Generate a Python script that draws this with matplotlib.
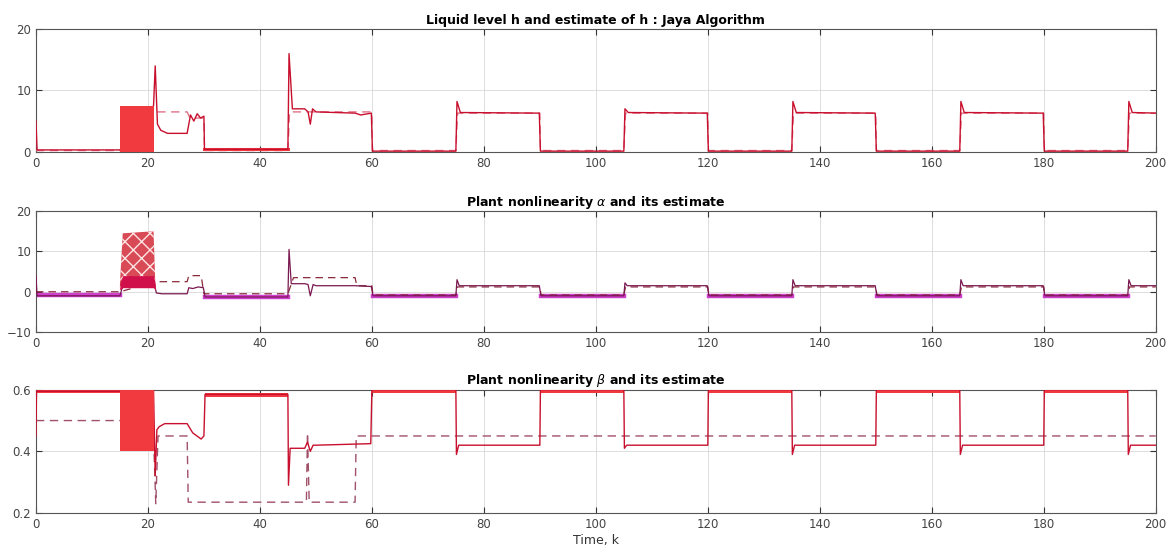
import matplotlib
matplotlib.use("Agg")
import matplotlib.pyplot as plt

# ── data ──────────────────────────────────────────────────────────────
# panel 1: liquid level h (solid) and its estimate (dashed)
h_k = [0, 0.2, 15, 21, 21.3, 21.7, 22.3, 23.5, 27, 27.6, 28.2, 28.8, 29.4, 30, 30.1,
       45, 45.2, 45.8, 48, 48.6, 49, 49.4, 50, 57, 58, 59.9, 60.1,
       75, 75.2, 75.8, 89.9, 90.1, 105, 105.2, 105.8, 119.9, 120.1,
       135, 135.2, 135.8, 149.9, 150.1, 165, 165.2, 165.8, 179.9, 180.1,
       195, 195.2, 195.8, 200]
h_v = [5, 0.3, 0.3, 7.5, 14, 4.5, 3.5, 3.0, 3.0, 6.0, 5.0, 6.2, 5.5, 5.8, 0.4,
       0.4, 16, 7.0, 7.0, 6.5, 4.5, 7.0, 6.5, 6.3, 6.0, 6.3, 0.1,
       0.1, 8.2, 6.4, 6.3, 0.1, 0.1, 7.0, 6.4, 6.3, 0.1,
       0.1, 8.2, 6.4, 6.3, 0.1, 0.1, 8.2, 6.4, 6.3, 0.1,
       0.1, 8.2, 6.4, 6.3]
hh_k = [0, 15, 21, 21.5, 27, 27.5, 30, 30.1, 45, 45.3, 60, 60.1, 75, 75.3, 90, 90.1,
        105, 105.3, 120, 120.1, 135, 135.3, 150, 150.1, 165, 165.3, 180, 180.1,
        195, 195.3, 200]
hh_v = [0.2, 0.2, 6.5, 6.5, 6.5, 5.5, 5.5, 0.2, 0.2, 6.5, 6.5, 0.2, 0.2, 6.3, 6.3, 0.2,
        0.2, 6.3, 6.3, 0.2, 0.2, 6.3, 6.3, 0.2, 0.2, 6.3, 6.3, 0.2,
        0.2, 6.3, 6.3]
h_osc_k = [15, 21]
h_osc_lo = [0, 0]
h_osc_hi = [7.5, 7.5]

# panel 2: nonlinearity alpha (solid) and its estimate (dashed)
a_k = [0, 0.2, 15, 15.5, 21, 21.5, 22.5, 27, 27.3, 28, 29, 29.9, 30.2,
       45, 45.2, 45.6, 48, 48.6, 49, 49.5, 50, 57, 59.9, 60.2,
       75, 75.2, 75.6, 89.9, 90.2, 105, 105.2, 105.6, 119.9, 120.2,
       135, 135.2, 135.6, 149.9, 150.2, 165, 165.2, 165.6, 179.9, 180.2,
       195, 195.2, 195.6, 200]
a_v = [4, -1, -1, 1.5, 3, -0.3, -0.5, -0.5, 1.0, 0.8, 1.2, 1.0, -1.3,
       -1.3, 10.5, 2.0, 2.0, 1.8, -1.0, 1.8, 1.5, 1.5, 1.3, -1.0,
       -1.0, 3.0, 1.5, 1.5, -1.0, -1.0, 2.2, 1.5, 1.5, -1.0,
       -1.0, 3.0, 1.5, 1.5, -1.0, -1.0, 3.0, 1.5, 1.5, -1.0,
       -1.0, 3.0, 1.5, 1.5]
ah_k = [0, 15, 21.5, 22, 27, 27.3, 29.5, 30, 45, 46, 57, 57.3, 60, 60.2,
        75, 75.3, 90, 90.2, 105, 105.3, 120, 120.2, 135, 135.3, 150, 150.2,
        165, 165.3, 180, 180.2, 195, 195.3, 200]
ah_v = [0, 0, 2.5, 2.5, 2.5, 4.0, 4.0, -0.5, -0.5, 3.5, 3.5, 1.5, 1.5, -0.8,
        -0.8, 1.2, 1.2, -0.8, -0.8, 1.2, 1.2, -0.8, -0.8, 1.2, 1.2, -0.8,
        -0.8, 1.2, 1.2, -0.8, -0.8, 1.2, 1.2]
# magenta noise band of the estimate in the low phases (start, end, centre)
a_band_k0 = [0.3, 30.2, 60.2, 90.2, 120.2, 150.2, 180.2]
a_band_k1 = [15, 45, 75, 105, 135, 165, 195]
a_band_c = [-0.7, -1.4, -1.0, -1.0, -1.0, -1.0, -1.0]
a_osc_k = [15, 15.5, 21, 21.3]
a_osc_lo = [0.5, 1, 1, 0.5]
a_osc_mid = [2, 4, 4, 2]
a_osc_hi = [2, 14.5, 15, 3]

# panel 3: nonlinearity beta (solid) and its estimate (dashed)
b_k = [0, 0.1, 15, 21, 21.3, 21.6, 22, 23, 27, 28, 29.5, 30, 30.2,
       45, 45.1, 45.4, 45.6, 48, 48.5, 49, 49.5, 50, 59.8, 60,
       75, 75.1, 75.5, 90, 90.1, 105, 105.1, 105.5, 120, 120.1,
       135, 135.1, 135.5, 150, 150.1, 165, 165.1, 165.5, 180, 180.1,
       195, 195.1, 195.5, 200]
b_v = [0.45, 0.595, 0.595, 0.6, 0.32, 0.47, 0.48, 0.49, 0.49, 0.46, 0.44, 0.45, 0.585,
       0.585, 0.29, 0.41, 0.41, 0.41, 0.43, 0.40, 0.42, 0.42, 0.425, 0.6,
       0.6, 0.39, 0.42, 0.42, 0.6, 0.6, 0.41, 0.42, 0.42, 0.6,
       0.6, 0.39, 0.42, 0.42, 0.6, 0.6, 0.39, 0.42, 0.42, 0.6,
       0.6, 0.39, 0.42, 0.42]
bh_k = [0, 15, 21, 21.4, 21.8, 22.2, 27, 27.2, 48.3, 48.5, 48.8, 49.1, 57, 57.2, 200]
bh_v = [0.5, 0.5, 0.45, 0.23, 0.45, 0.45, 0.45, 0.235, 0.235, 0.46, 0.235, 0.235, 0.235, 0.45, 0.45]
b_band_k0 = [0.2, 30.2, 60, 90, 120, 150, 180]
b_band_k1 = [15, 45, 75, 105, 135, 165, 195]
b_band_lo = [0.59, 0.575, 0.59, 0.59, 0.59, 0.59, 0.59]
b_band_hi = [0.6, 0.59, 0.6, 0.6, 0.6, 0.6, 0.6]
b_osc_k = [15, 21]
b_osc_lo = [0.4, 0.4]
b_osc_hi = [0.6, 0.6]

x_ticks = [0, 20, 40, 60, 80, 100, 120, 140, 160, 180, 200]

SOLID = "#c8102e"
DASH = "#e07088"
OSC = "#f13a3f"

fig = plt.figure(figsize=(11.75, 5.6), dpi=100)
rects = [[0.0306, 0.729, 0.953, 0.219],
         [0.0306, 0.407, 0.953, 0.216],
         [0.0306, 0.084, 0.953, 0.220]]
axs = [fig.add_axes(r) for r in rects]

ax1, ax2, ax3 = axs

# panel 1
ax1.plot(hh_k, hh_v, color=DASH, lw=1.0, ls=(0, (6, 4)), zorder=3)
ax1.plot(h_k, h_v, color=SOLID, lw=1.0, zorder=4)
ax1.plot([30.1, 45], [0.4, 0.4], color=OSC, lw=2.2, zorder=3)
ax1.fill_between(h_osc_k, h_osc_lo, h_osc_hi, color=OSC, lw=0, zorder=6)
ax1.set_ylim(0, 20)
ax1.set_yticks([0, 10, 20])
ax1.set_title("Liquid level h and estimate of h : Jaya Algorithm",
              fontsize=9, fontweight="bold", pad=4)

# panel 2
for k0, k1, c in zip(a_band_k0, a_band_k1, a_band_c):
    ax2.plot([k0, k1], [c, c], color="#d040d0", lw=3.2, zorder=2)
plt.rcParams["hatch.linewidth"] = 1.0
ax2.plot(ah_k, ah_v, color="#8a2a3a", lw=0.9, ls=(0, (6, 4)), zorder=4)
ax2.plot(a_k, a_v, color="#7a1850", lw=0.9, zorder=5)
ax2.fill_between(a_osc_k, a_osc_lo, a_osc_hi, facecolor="#d84a55",
                 edgecolor="#ffe4e4", hatch="xx", lw=0, zorder=6)
ax2.fill_between(a_osc_k, a_osc_lo, a_osc_mid, color="#d0104a", lw=0, zorder=7)
ax2.set_ylim(-10, 20)
ax2.set_yticks([-10, 0, 10, 20])
ax2.set_title(r"Plant nonlinearity $\alpha$ and its estimate",
              fontsize=9, fontweight="bold", pad=4)

# panel 3
for k0, k1, lo, hi in zip(b_band_k0, b_band_k1, b_band_lo, b_band_hi):
    ax3.fill_between([k0, k1], [lo, lo], [hi, hi], color=OSC, lw=0, zorder=3)
ax3.plot(bh_k, bh_v, color="#a05068", lw=1.0, ls=(0, (6, 4)), zorder=4)
ax3.plot(b_k, b_v, color=SOLID, lw=1.0, zorder=5)
ax3.fill_between(b_osc_k, b_osc_lo, b_osc_hi, color=OSC, lw=0, zorder=6)
ax3.set_ylim(0.2, 0.6)
ax3.set_yticks([0.2, 0.4, 0.6])
ax3.set_title(r"Plant nonlinearity $\beta$ and its estimate",
              fontsize=9, fontweight="bold", pad=4)
ax3.set_xlabel("Time, k", fontsize=9, color="#333333", labelpad=2)

for ax in axs:
    ax.set_xlim(0, 200)
    ax.set_xticks(x_ticks)
    ax.grid(True, color="#dddddd", lw=0.7)
    ax.set_axisbelow(True)
    ax.tick_params(direction="in", top=True, right=True, length=4,
                   labelsize=8.5, labelcolor="#444444", color="#333333")
    for s in ax.spines.values():
        s.set_color("#555555")
        s.set_linewidth(0.8)

fig.savefig("out.png", dpi=100)
